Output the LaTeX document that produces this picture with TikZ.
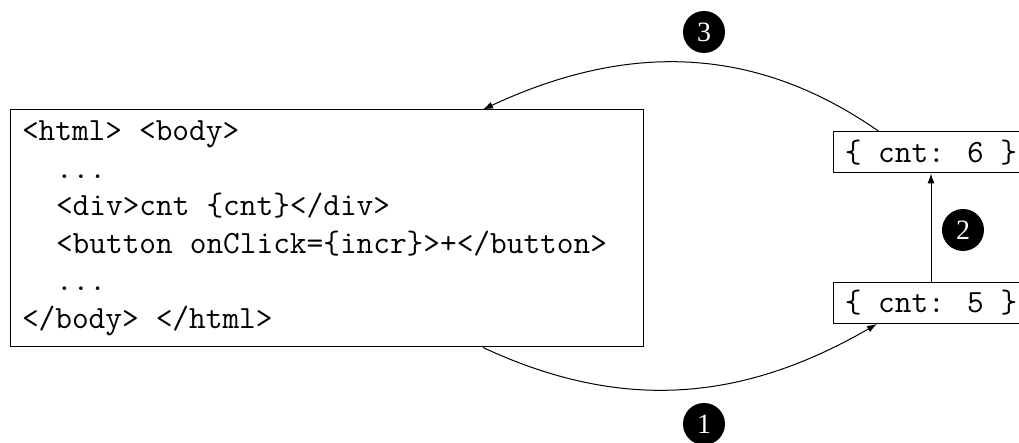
\documentclass[tikz,border=0pt]{standalone}
\usepackage{fontspec}
\setmainfont{Liberation Serif}
\usetikzlibrary{arrows.meta}

\tikzset{
  codebox/.style={draw,line width=0.5pt,inner xsep=6pt,inner ysep=0pt,
    font=\fontsize{16.2}{18.75}\selectfont\ttfamily,align=left,
    text width=304.5pt,minimum width=316.5pt,minimum height=118.5pt},
  statebox/.style={draw,line width=0.5pt,inner sep=0pt,
    font=\fontsize{16.2}{18.75}\selectfont\ttfamily,
    minimum width=98pt,minimum height=20.5pt},
  stepmark/.style={circle,fill=black,text=white,inner sep=0pt,
    minimum size=21pt,font=\fontsize{14}{14}\selectfont},
  flow/.style={line width=0.5pt,-{Latex[length=5pt,width=3.5pt]}}
}
\newcommand{\ind}{\hspace*{1.05em}}
\newcommand{\fixsp}{\spaceskip=0.525em\relax\xspaceskip=0.525em\relax}

\begin{document}
\begin{tikzpicture}[x=0.5pt,y=0.5pt]
    \useasboundingbox (0,0) rectangle (1019,443);
    \clip (0,0) rectangle (1019,443);
    % component source
    \node[codebox] (html) at (326.5,214.5) {\fixsp
      <html> <body>\\
      \ind...\\
      \ind<div>cnt \{cnt\}</div>\\
      \ind<button onClick=\{incr\}>+</button>\\
      \ind...\\
      </body> </html>};
    % state before and after
    \node[statebox] (c5) at (931,140) {\{ cnt: 5 \}};
    \node[statebox] (c6) at (931,290.5) {\{ cnt: 6 \}};
    % steps
    \node[stepmark] (s1) at (704,19) {1};
    \node[stepmark] (s2) at (963,213) {2};
    \node[stepmark] (s3) at (704,411) {3};
    \draw[flow] ([xshift=78.25pt]html.south) to[out=-25,in=-150] ([xshift=-27pt]c5.south);
    \draw[flow] (c5) -- (c6);
    \draw[flow] ([xshift=-26pt]c6.north) to[out=145,in=25] ([xshift=78.25pt]html.north);
\end{tikzpicture}
\end{document}
